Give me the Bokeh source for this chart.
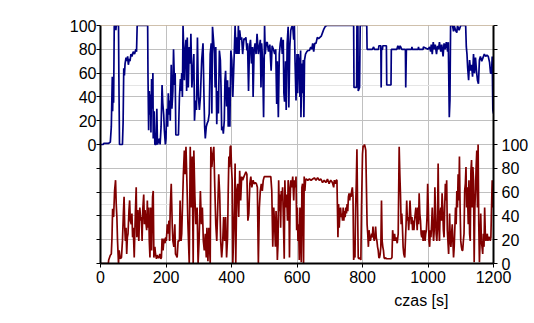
from bokeh.plotting import figure
from bokeh.models import Range1d, LinearAxis, FixedTicker, Grid, Span, Title
from bokeh.embed import file_html
from bokeh.resources import INLINE

x_ticks = [0, 200, 400, 600, 800, 1000, 1200]
left_labels = [0, 20, 40, 60, 80, 100]
right_labels = [0, 20, 40, 60, 80, 100]
x_label = "czas [s]"

blue_points = [
    (0, 0), (8, 0), (10, 1), (25, 1), (30, 2), (33, 15), (36, 57), (37, 28), (39, 55), (40, 35),
    (42, 100), (46, 100), (47, 96), (48, 100), (55, 100), (56, 60), (58, 0), (67, 0), (69, 18),
    (71, 64), (73, 58), (75, 68), (78, 73), (80, 70), (83, 74), (85, 67), (88, 72), (90, 70),
    (93, 76), (96, 74), (100, 78), (104, 76), (108, 80), (110, 78), (112, 100), (144, 100),
    (145, 58), (147, 12), (149, 45), (151, 25), (153, 42), (154, 10), (156, 55), (158, 30),
    (160, 60), (161, 5), (164, 28), (166, 0), (170, 0), (172, 30), (174, 0), (180, 5), (182, 0),
    (185, 15), (188, 50), (190, 35), (193, 25), (195, 12), (198, 0), (200, 5), (202, 30),
    (205, 15), (207, 43), (209, 25), (211, 37), (213, 20), (216, 67), (218, 30), (221, 45),
    (223, 80), (226, 50), (228, 60), (230, 8), (238, 8), (241, 40), (244, 55), (246, 45),
    (248, 60), (250, 40), (252, 100), (254, 82), (256, 54), (258, 76), (261, 88), (263, 45),
    (265, 90), (268, 48), (271, 82), (274, 68), (276, 93), (279, 48), (282, 62), (285, 76),
    (287, 20), (290, 37), (293, 29), (296, 90), (299, 40), (302, 29), (305, 40), (309, 71),
    (313, 85), (316, 40), (318, 15), (320, 5), (323, 15), (326, 18), (329, 20), (332, 26),
    (335, 76), (338, 85), (340, 26), (342, 99), (345, 88), (348, 76), (350, 48), (352, 82),
    (355, 17), (357, 45), (360, 26), (363, 79), (366, 71), (368, 48), (370, 12), (373, 15),
    (375, 9), (378, 20), (380, 54), (382, 62), (385, 32), (388, 54), (390, 15), (392, 48),
    (395, 15), (398, 79), (401, 71), (404, 40), (407, 65), (409, 82), (411, 100), (414, 76),
    (416, 90), (419, 76), (421, 100), (423, 76), (425, 96), (428, 88), (431, 90), (434, 76),
    (438, 89), (441, 88), (444, 90), (447, 79), (449, 85), (452, 45), (455, 82), (458, 88),
    (461, 68), (464, 82), (466, 40), (469, 79), (472, 85), (475, 76), (478, 93), (482, 76),
    (485, 82), (488, 88), (490, 48), (492, 85), (495, 71), (498, 23), (501, 100), (503, 76),
    (506, 85), (509, 86), (513, 78), (517, 84), (521, 62), (524, 83), (528, 80), (532, 76),
    (535, 80), (538, 34), (540, 70), (543, 23), (546, 76), (549, 85), (552, 90), (555, 76),
    (558, 88), (560, 43), (562, 36), (565, 70), (567, 29), (570, 85), (573, 99), (575, 31),
    (578, 82), (581, 96), (584, 99), (587, 99), (590, 88), (592, 100), (594, 70), (597, 37),
    (600, 76), (602, 43), (604, 76), (607, 68), (609, 40), (611, 79), (612, 23), (615, 68),
    (617, 43), (619, 71), (621, 23), (623, 71), (626, 76), (630, 78), (634, 79), (638, 79),
    (642, 82), (645, 80), (648, 85), (651, 78), (654, 85), (658, 85), (662, 90), (666, 89),
    (670, 90), (674, 91), (678, 94), (682, 97), (686, 99), (690, 100), (773, 100), (774, 48),
    (782, 48), (783, 100), (786, 100), (787, 45), (791, 48), (793, 100), (813, 100), (814, 80),
    (830, 80), (834, 82), (836, 80), (849, 80), (850, 83), (856, 83), (857, 48), (858, 80),
    (861, 80), (862, 83), (873, 83), (874, 50), (887, 50), (888, 80), (905, 80), (908, 83),
    (912, 80), (915, 83), (920, 80), (931, 80), (932, 48), (934, 80), (950, 80), (951, 82),
    (952, 80), (970, 80), (971, 82), (972, 80), (985, 80), (986, 82), (1000, 80), (1005, 82),
    (1008, 78), (1010, 84), (1013, 76), (1016, 86), (1019, 80), (1022, 84), (1026, 76),
    (1029, 83), (1032, 80), (1035, 86), (1039, 78), (1042, 84), (1046, 74), (1049, 85),
    (1052, 80), (1056, 86), (1060, 78), (1062, 86), (1065, 23), (1067, 37), (1069, 100),
    (1075, 100), (1078, 95), (1080, 100), (1084, 96), (1088, 94), (1090, 100), (1095, 96),
    (1100, 100), (1115, 100), (1117, 82), (1119, 76), (1121, 65), (1124, 54), (1127, 71),
    (1130, 62), (1133, 67), (1136, 57), (1139, 76), (1142, 60), (1145, 73), (1148, 62),
    (1151, 54), (1154, 51), (1157, 71), (1160, 74), (1164, 70), (1168, 73), (1172, 76),
    (1176, 74), (1180, 75), (1184, 74), (1188, 69), (1191, 60), (1194, 60), (1196, 74),
    (1198, 29), (1200, 26),
]

red_points = [
    (0, 0), (24, 0), (25, 3), (30, 7), (33, 8), (35, 21), (37, 46), (40, 39), (43, 61), (46, 70),
    (48, 50), (50, 39), (52, 19), (55, 0), (57, 11), (60, 4), (64, 5), (67, 19), (70, 43),
    (72, 56), (74, 30), (76, 19), (78, 30), (80, 8), (82, 22), (84, 25), (87, 45), (89, 53),
    (91, 36), (94, 33), (96, 42), (98, 22), (100, 30), (103, 5), (105, 28), (107, 47), (109, 64),
    (111, 22), (114, 45), (117, 19), (120, 47), (123, 36), (125, 39), (127, 19), (129, 45),
    (132, 58), (134, 33), (136, 45), (138, 36), (141, 28), (143, 53), (145, 30), (147, 47),
    (149, 19), (151, 5), (153, 47), (156, 11), (159, 56), (161, 61), (163, 5), (166, 14),
    (168, 8), (171, 4), (173, 7), (176, 5), (179, 5), (181, 8), (184, 4), (186, 5), (188, 21),
    (191, 11), (194, 21), (197, 17), (199, 22), (201, 19), (204, 33), (206, 25), (209, 36),
    (211, 19), (213, 47), (216, 67), (219, 33), (221, 19), (224, 14), (227, 33), (229, 8),
    (231, 7), (234, 5), (237, 19), (241, 19), (243, 53), (246, 19), (248, 25), (253, 75),
    (256, 95), (258, 75), (261, 98), (264, 67), (267, 33), (271, 0), (274, 98), (277, 47),
    (280, 90), (283, 0), (285, 95), (288, 58), (291, 33), (295, 47), (298, 0), (301, 19),
    (305, 61), (308, 33), (311, 47), (314, 19), (317, 11), (320, 25), (323, 5), (325, 30),
    (328, 2), (331, 30), (335, 0), (337, 98), (340, 81), (343, 92), (346, 98), (349, 64),
    (352, 33), (355, 19), (358, 47), (361, 75), (364, 58), (367, 19), (370, 5), (373, 17),
    (376, 39), (379, 19), (382, 39), (385, 5), (388, 22), (390, 61), (392, 90), (394, 81),
    (396, 98), (398, 99), (400, 81), (402, 70), (404, 0), (406, 19), (409, 47), (411, 84),
    (413, 0), (416, 61), (419, 67), (422, 39), (425, 78), (428, 53), (431, 73), (434, 70),
    (438, 73), (441, 75), (444, 77), (447, 75), (450, 36), (453, 42), (456, 67), (459, 73),
    (462, 64), (466, 70), (469, 67), (473, 68), (476, 67), (479, 64), (482, 0), (485, 47),
    (488, 61), (491, 67), (494, 61), (497, 70), (500, 73), (505, 73), (510, 73), (516, 73),
    (520, 73), (523, 61), (526, 14), (529, 47), (532, 30), (534, 14), (536, 44), (538, 33),
    (540, 3), (542, 16), (544, 70), (546, 44), (548, 58), (550, 30), (552, 61), (554, 53),
    (556, 64), (558, 42), (561, 4), (563, 70), (565, 47), (567, 58), (569, 53), (571, 36),
    (573, 70), (575, 64), (577, 5), (579, 53), (581, 70), (584, 64), (587, 73), (590, 53),
    (592, 70), (595, 64), (597, 73), (599, 28), (601, 47), (603, 19), (605, 33), (607, 3),
    (609, 47), (611, 33), (613, 1), (615, 64), (617, 67), (620, 0), (622, 73), (624, 61),
    (626, 70), (628, 71), (633, 70), (638, 71), (643, 70), (648, 71), (653, 72), (658, 70),
    (663, 72), (668, 70), (673, 71), (678, 68), (683, 70), (688, 68), (693, 71), (698, 67),
    (703, 70), (708, 68), (712, 64), (714, 70), (717, 67), (720, 70), (722, 70), (725, 22),
    (727, 50), (729, 30), (731, 44), (733, 47), (735, 39), (737, 42), (739, 36), (741, 47),
    (743, 36), (745, 44), (747, 39), (749, 47), (751, 42), (753, 50), (755, 44), (757, 56),
    (759, 59), (761, 53), (763, 59), (765, 56), (767, 61), (769, 64), (771, 56), (773, 3),
    (775, 8), (777, 5), (779, 47), (781, 67), (783, 96), (785, 47), (787, 5), (789, 4),
    (791, 5), (793, 4), (795, 3), (797, 47), (800, 92), (802, 99), (804, 98), (806, 100),
    (808, 98), (810, 95), (812, 64), (814, 33), (816, 25), (818, 14), (820, 28), (822, 22),
    (824, 19), (826, 22), (828, 25), (830, 22), (832, 31), (834, 22), (836, 19), (838, 22),
    (840, 31), (842, 22), (844, 19), (846, 14), (848, 11), (850, 5), (852, 5), (854, 8),
    (856, 14), (858, 53), (860, 19), (862, 14), (864, 11), (866, 5), (868, 4), (870, 5),
    (873, 4), (880, 4), (887, 4), (890, 5), (892, 28), (895, 19), (898, 25), (900, 19),
    (903, 22), (906, 17), (909, 25), (912, 98), (914, 75), (916, 58), (918, 33), (920, 42),
    (922, 30), (924, 14), (926, 8), (929, 5), (931, 19), (933, 33), (935, 53), (937, 36),
    (939, 39), (941, 28), (943, 39), (945, 53), (947, 42), (949, 33), (951, 39), (953, 28),
    (955, 36), (957, 28), (959, 36), (961, 42), (963, 47), (965, 39), (967, 28), (969, 47),
    (971, 33), (973, 59), (975, 42), (977, 36), (979, 25), (981, 22), (983, 28), (985, 19),
    (987, 25), (989, 28), (991, 19), (993, 25), (995, 28), (997, 39), (999, 67), (1001, 47),
    (1003, 19), (1005, 14), (1007, 28), (1009, 22), (1011, 33), (1013, 47), (1015, 30),
    (1017, 19), (1019, 28), (1021, 64), (1023, 42), (1025, 25), (1027, 19), (1029, 33),
    (1031, 84), (1033, 33), (1035, 19), (1037, 42), (1039, 47), (1041, 36), (1043, 59),
    (1045, 47), (1047, 28), (1049, 22), (1051, 47), (1053, 67), (1055, 53), (1057, 70),
    (1059, 28), (1063, 8), (1066, 42), (1068, 19), (1070, 14), (1072, 25), (1074, 33),
    (1076, 19), (1078, 5), (1080, 14), (1082, 30), (1084, 47), (1086, 33), (1088, 61),
    (1090, 47), (1092, 75), (1094, 53), (1096, 90), (1098, 47), (1100, 19), (1102, 14),
    (1104, 11), (1106, 11), (1108, 19), (1110, 25), (1112, 61), (1114, 67), (1116, 81),
    (1118, 47), (1120, 64), (1123, 33), (1125, 70), (1127, 25), (1129, 19), (1131, 78),
    (1133, 87), (1135, 47), (1137, 81), (1139, 70), (1141, 1), (1143, 47), (1145, 61),
    (1147, 81), (1149, 95), (1151, 47), (1153, 100), (1155, 33), (1157, 1), (1159, 19),
    (1161, 42), (1163, 19), (1165, 14), (1167, 8), (1169, 25), (1171, 14), (1173, 47),
    (1175, 25), (1177, 19), (1179, 22), (1181, 25), (1183, 19), (1185, 22), (1188, 22),
    (1190, 19), (1192, 22), (1194, 47), (1196, 70), (1198, 47), (1200, 60),
]

blue_t = [a for a, b in blue_points]
blue_v = [b for a, b in blue_points]
red_t = [a for a, b in red_points]
red_v = [b for a, b in red_points]

FONT = "Liberation Sans"
FS = "16px"

p = figure(frame_width=393, frame_height=238, output_backend="svg", toolbar_location=None,
           x_range=Range1d(0, 1200), y_range=Range1d(0, 200),
           y_axis_location=None,
           min_border_left=100, min_border_right=40, min_border_top=25, min_border_bottom=20,
           background_fill_color="white", border_fill_color="white")
p.outline_line_color = None
p.extra_y_ranges = {"top": Range1d(-100, 100)}

# x axis
xa = p.xaxis[0]
xa.ticker = FixedTicker(ticks=x_ticks)
xa.axis_line_color = "black"
xa.axis_line_width = 2
xa.major_tick_in = 0
xa.major_tick_out = 4
xa.major_tick_line_color = "black"
xa.minor_tick_line_color = None
xa.major_label_text_font = FONT
xa.major_label_text_font_size = FS
xa.major_label_text_color = "black"
xa.major_label_standoff = 3

p.xgrid.ticker = FixedTicker(ticks=x_ticks[1:-1])
p.xgrid.grid_line_color = "#c0c0c0"
p.xgrid.grid_line_width = 1

# horizontal grid in bottom-range units
p.add_layout(Grid(dimension=1, ticker=FixedTicker(ticks=list(range(0, 200, 20))),
                  grid_line_color="#c0c0c0", grid_line_width=1))
p.add_layout(Span(location=200, dimension="width", line_color="#a0825a", line_width=1))

# left axis (top series, range -100..100)
left_ticks = [-100, -80, -60, -40, -20] + left_labels
la = LinearAxis(y_range_name="top", ticker=FixedTicker(ticks=left_ticks),
                major_label_overrides={t: "" for t in [-100, -80, -60, -40, -20]})
# right axis (bottom series, range 0..200)
right_ticks = right_labels + [120, 140, 160, 180, 200]
ra = LinearAxis(ticker=FixedTicker(ticks=right_ticks),
                major_label_overrides={t: "" for t in [120, 140, 160, 180, 200]})
for ax in (la, ra):
    ax.axis_line_color = "black"
    ax.axis_line_width = 2
    ax.major_tick_in = 0
    ax.major_tick_out = 4
    ax.major_tick_line_color = "black"
    ax.minor_tick_line_color = None
    ax.major_label_text_font = FONT
    ax.major_label_text_font_size = FS
    ax.major_label_text_color = "black"
la.major_label_standoff = 0
ra.major_label_standoff = 4
p.add_layout(la, "left")
p.add_layout(ra, "right")

p.line(red_t, red_v, line_color="#800000", line_width=1.7)
p.line(blue_t, blue_v, y_range_name="top", line_color="#000080", line_width=1.7)

p.add_layout(Title(text=x_label, align="right", offset=45, standoff=8,
                   text_font=FONT, text_font_size=FS, text_font_style="normal",
                   text_color="black"), "below")

open("out.html", "w").write(file_html(p, INLINE))
